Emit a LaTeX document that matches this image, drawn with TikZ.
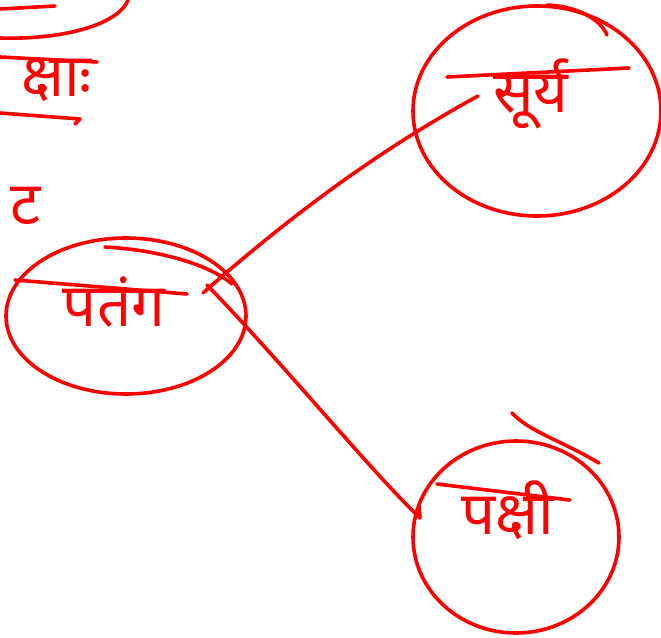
\documentclass[tikz,border=0pt]{standalone}
\usepackage{fontspec}
\usetikzlibrary{shapes.geometric}
\newfontfamily\deva[Script=Devanagari]{Noto Sans}
\begin{document}
\begin{tikzpicture}[x=1pt,y=-1pt,
  ink/.style={draw=red, line width=3.6pt, line cap=round, line join=round},
  ring/.style={ellipse, draw=red, line width=3.6pt, inner sep=0pt},
  word/.style={text=red, font=\deva\fontsize{60}{66}\selectfont, inner sep=0pt}]
\useasboundingbox (0,0) rectangle (661,637);
\fill[white] (0,0) rectangle (661,637);
% rings
\node[ring, minimum width=248pt, minimum height=210pt] (sun) at (537,111) {};
\node[ring, minimum width=240pt, minimum height=156pt] (kite) at (126,316) {};
\node[ring, minimum width=206pt, minimum height=192pt] (bird) at (516,537) {};
% words
\node[word] (sunw) at (531,94) {सूर्य};
\node[word] (kitew) at (114,302) {पतंग};
\node[word] (birdw) at (508,510) {पक्षी};
\node[word, anchor=east] (left1) at (92,80) {क्षाः};
\node[word] (left2) at (26,206) {ट};
% extended headlines and extra strokes
\coordinate (sh1) at (447,77); \coordinate (sh2) at (629,68);
\draw[ink] (sh1) -- (sh2);
\coordinate (kh1) at (15,280); \coordinate (kh2) at (187,294);
\draw[ink] (kh1) -- (kh2);
\coordinate (bh1) at (437,484); \coordinate (bh2) at (570,500);
\draw[ink] (bh1) -- (bh2);
\coordinate (ka1) at (105,247); \coordinate (ka2) at (232,284);
\draw[ink] (ka1) .. controls (160,250) and (210,265) .. (ka2);
\coordinate (sa1) at (547,5); \coordinate (sa2) at (607,35);
\draw[ink] (sa1) .. controls (575,6) and (600,18) .. (sa2);
\coordinate (ba1) at (512,413); \coordinate (ba2) at (599,463);
\draw[ink] (ba1) .. controls (530,432) and (560,440) .. (ba2);
% left edge fragments
\coordinate (tl1) at (0,38); \coordinate (tl2) at (128,0);
\draw[ink] (tl1) .. controls (70,40) and (120,22) .. (tl2);
\coordinate (tl3) at (0,9); \coordinate (tl4) at (55,6);
\draw[ink] (tl3) -- (tl4);
\coordinate (lh1) at (0,57); \coordinate (lh2) at (97,62);
\draw[ink] (lh1) -- (lh2);
\coordinate (lu1) at (0,113); \coordinate (lu2) at (80,119);
\draw[ink] (lu1) -- (lu2) -- (75,124);
% connectors
\coordinate (c1) at (203,293); \coordinate (c2) at (478,96);
\draw[ink] (c1) .. controls (280,225) and (370,155) .. (c2);
\coordinate (c3) at (207,285); \coordinate (c4) at (420,518);
\draw[ink] (c3) .. controls (280,360) and (370,470) .. (c4) -- (419,506);
\end{tikzpicture}
\end{document}
